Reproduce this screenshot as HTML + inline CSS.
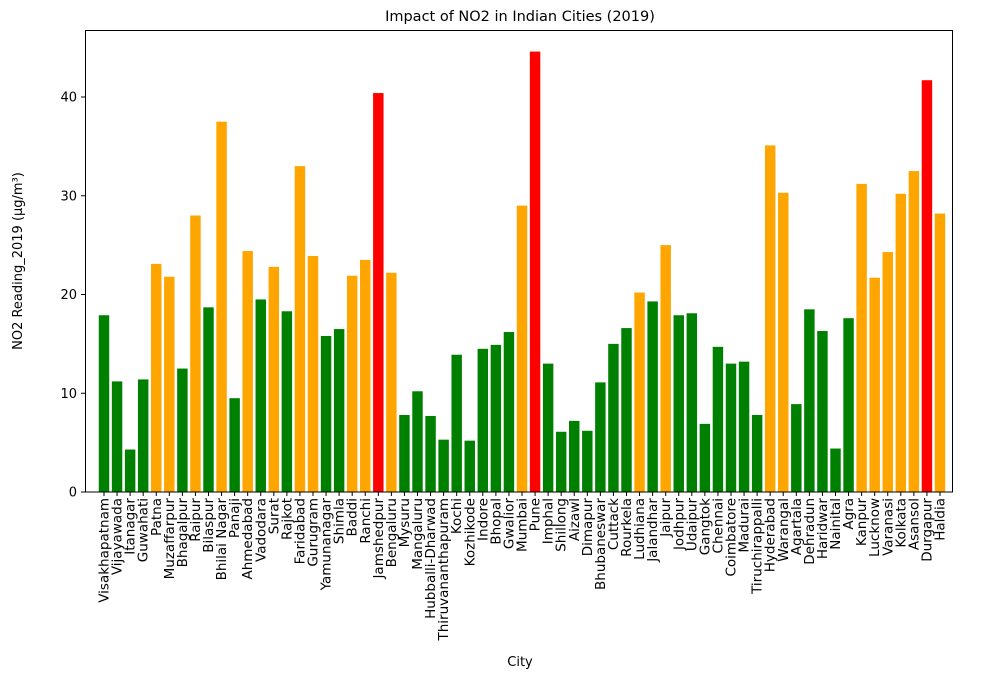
<!DOCTYPE html>
<html><head><meta charset="utf-8"><style>
html,body{margin:0;padding:0;background:#fff}
svg{display:block;font-family:"DejaVu Sans","Liberation Sans",sans-serif}
</style></head><body>
<svg id="chart" width="997" height="678" viewBox="0 0 997 678" xmlns="http://www.w3.org/2000/svg">
<text x="520" y="21" font-size="14.5" text-anchor="middle">Impact of NO2 in Indian Cities (2019)</text>
<text transform="translate(22,261) rotate(-90)" font-size="13" text-anchor="middle">NO2 Reading_2019 (µg/m³)</text>
<text x="520" y="666" font-size="13" text-anchor="middle">City</text>
<g id="bars"></g><g id="yticks"></g><g id="xticks"></g>
<rect x="85.5" y="30.5" width="867" height="461.5" fill="none" stroke="#000" stroke-width="1"/>
</svg>
<script>
const cities=["Visakhapatnam","Vijayawada","Itanagar","Guwahati","Patna","Muzaffarpur","Bhagalpur","Raipur","Bilaspur","Bhilai Nagar","Panaji","Ahmedabad","Vadodara","Surat","Rajkot","Faridabad","Gurugram","Yamunanagar","Shimla","Baddi","Ranchi","Jamshedpur","Bengaluru","Mysuru","Mangaluru","Hubballi-Dharwad","Thiruvananthapuram","Kochi","Kozhikode","Indore","Bhopal","Gwalior","Mumbai","Pune","Imphal","Shillong","Aizawl","Dimapur","Bhubaneswar","Cuttack","Rourkela","Ludhiana","Jalandhar","Jaipur","Jodhpur","Udaipur","Gangtok","Chennai","Coimbatore","Madurai","Tiruchirappalli","Hyderabad","Warangal","Agartala","Dehradun","Haridwar","Nainital","Agra","Kanpur","Lucknow","Varanasi","Kolkata","Asansol","Durgapur","Haldia"];
const no2Values=[17.9,11.2,4.3,11.4,23.1,21.8,12.5,28.0,18.7,37.5,9.5,24.4,19.5,22.8,18.3,33.0,23.9,15.8,16.5,21.9,23.5,40.4,22.2,7.8,10.2,7.7,5.3,13.9,5.2,14.5,14.9,16.2,29.0,44.6,13.0,6.1,7.2,6.2,11.1,15.0,16.6,20.2,19.3,25.0,17.9,18.1,6.9,14.7,13.0,13.2,7.8,35.1,30.3,8.9,18.5,16.3,4.4,17.6,31.2,21.7,24.3,30.2,32.5,41.7,28.2];
const yTickValues=[0,10,20,30,40];
const NS="http://www.w3.org/2000/svg";
const x0=104,x1=940,yBase=492,yPer=9.875;
const xScale=i=>x0+i*(x1-x0)/(cities.length-1);
const yScale=v=>yBase-v*yPer;
const bw=0.8*(x1-x0)/(cities.length-1);
const colorFor=v=>v>40?"#ff0000":(v>=20?"#ffa500":"#008000");
const bars=document.getElementById("bars"),xt=document.getElementById("xticks"),yt=document.getElementById("yticks");
cities.forEach((c,i)=>{
  const v=no2Values[i],cx=xScale(i);
  const r=document.createElementNS(NS,"rect");
  
  
  r.setAttribute("x",cx-bw/2);r.setAttribute("width",bw);
  r.setAttribute("y",yScale(v));r.setAttribute("height",yBase-yScale(v));
  r.setAttribute("fill",colorFor(v));bars.appendChild(r);
  const tk=document.createElementNS(NS,"line");
  
  
  tk.setAttribute("x1",cx);tk.setAttribute("x2",cx);tk.setAttribute("y1",yBase);tk.setAttribute("y2",yBase+4);tk.setAttribute("stroke","#000");xt.appendChild(tk);
  const t=document.createElementNS(NS,"text");
  
  
  t.setAttribute("transform","translate("+(cx+4.5)+","+(yBase+6)+") rotate(-90)");
  t.setAttribute("text-anchor","end");t.setAttribute("font-size","13.5");
  t.textContent=c;xt.appendChild(t);
});
yTickValues.forEach(v=>{
  const y=yScale(v);
  const tk=document.createElementNS(NS,"line");
  
  
  tk.setAttribute("x1",81);tk.setAttribute("x2",85.5);tk.setAttribute("y1",y);tk.setAttribute("y2",y);tk.setAttribute("stroke","#000");yt.appendChild(tk);
  const t=document.createElementNS(NS,"text");
  
  
  t.setAttribute("x",77);t.setAttribute("y",y+4.5);t.setAttribute("text-anchor","end");t.setAttribute("font-size","13");
  t.textContent=v;yt.appendChild(t);
});
</script>
</body></html>
